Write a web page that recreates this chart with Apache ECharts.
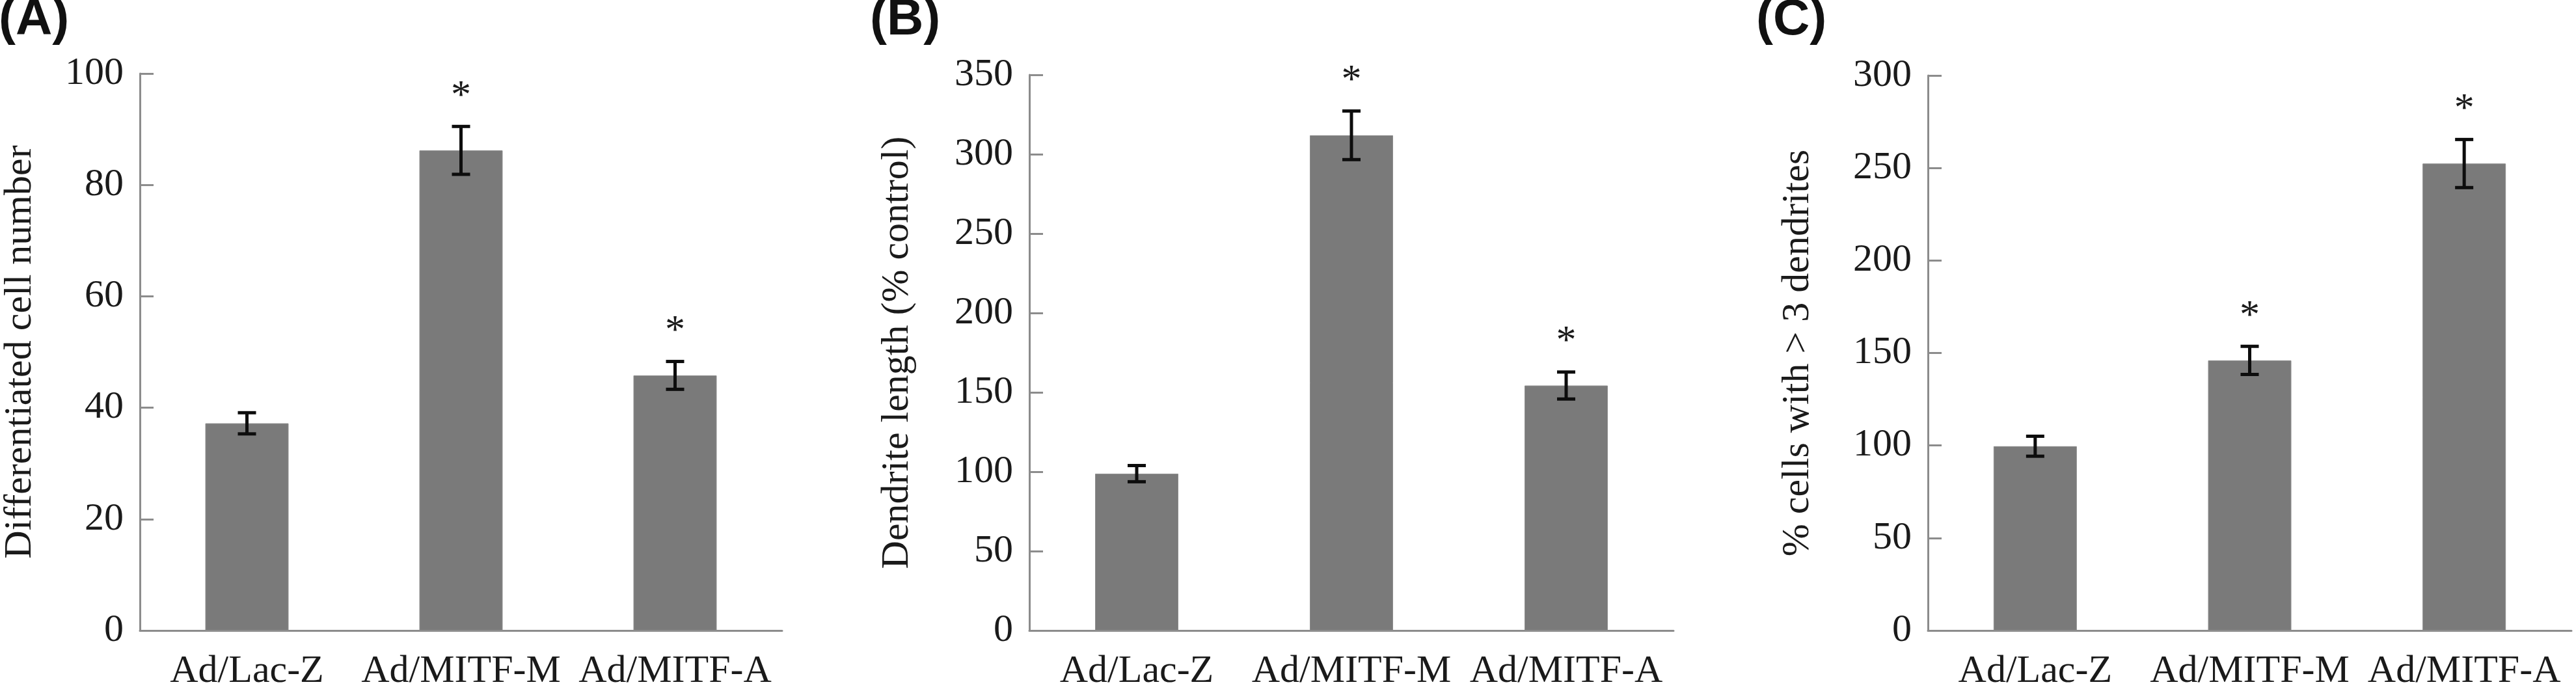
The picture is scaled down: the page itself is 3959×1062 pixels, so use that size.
<!DOCTYPE html>
<html>
<head>
<meta charset="utf-8">
<script src="https://cdn.jsdelivr.net/npm/echarts@6/dist/echarts.min.js"></script>
<style>
html,body{margin:0;padding:0;background:#fff;}
#chart{width:3959px;height:1062px;}
</style>
</head>
<body>
<div id="chart"></div>
<script>
// ---- Data ----
const categories = ['Ad/Lac-Z', 'Ad/MITF-M', 'Ad/MITF-A'];

const panelLabels = ['(A)', '(B)', '(C)'];
const yTitles = ['Differentiated cell number', 'Dendrite length (% control)', '% cells with > 3 dendrites'];

const meanA = [37.2, 86.2, 45.8];
const errA  = [1.9, 4.3, 2.5];
const meanB = [98.8, 311.9, 154.3];
const errB  = [5.1, 15.3, 8.5];
const meanC = [99.6, 146.0, 252.4];
const errC  = [5.4, 7.6, 13.0];

const sigA = [0, 1, 1];
const sigB = [0, 1, 1];
const sigC = [0, 1, 1];

const yMax = [100, 350, 300];
const yInterval = [20, 50, 50];

// ---- Style ----
const SERIF = '"Liberation Serif", "Times New Roman", serif';
const SANS = '"Liberation Sans", Arial, sans-serif';
const AXIS_COLOR = '#8c8c8c';
const BAR_COLOR = '#7a7a7a';
const TEXT_COLOR = '#1a1a1a';

const grids = [
  {left: 211, width: 991, top: 113, height: 863},
  {left: 1582, width: 990, top: 115, height: 861},
  {left: 2963, width: 989, top: 116, height: 861}
];
const nameGaps = [154, 173, 170];

const means = [meanA, meanB, meanC];
const errs = [errA, errB, errC];
const sigs = [sigA, sigB, sigC];

function renderErr(params, api) {
  const x = api.value(0), m = api.value(1), e = api.value(2), s = api.value(3);
  const top = api.coord([x, m + e]);
  const bot = api.coord([x, m - e]);
  const half = 14;
  const st = {stroke: '#0d0d0d', lineWidth: 5};
  const children = [
    {type: 'line', shape: {x1: top[0], y1: top[1], x2: bot[0], y2: bot[1]}, style: st},
    {type: 'line', shape: {x1: top[0] - half, y1: top[1], x2: top[0] + half, y2: top[1]}, style: st},
    {type: 'line', shape: {x1: bot[0] - half, y1: bot[1], x2: bot[0] + half, y2: bot[1]}, style: st}
  ];
  if (s) {
    children.push({
      type: 'text',
      x: top[0], y: top[1] - 46,
      style: {text: '*', font: '62px ' + SERIF, fill: TEXT_COLOR, align: 'center', verticalAlign: 'middle'}
    });
  }
  return {type: 'group', children: children};
}

const option = {
  backgroundColor: '#ffffff',
  animation: false,
  grid: grids,
  xAxis: grids.map((g, i) => ({
    type: 'category',
    gridIndex: i,
    data: categories,
    axisLine: {show: true, lineStyle: {color: AXIS_COLOR, width: 3}},
    axisTick: {show: false},
    axisLabel: {color: TEXT_COLOR, fontFamily: SERIF, fontSize: 60, margin: 33, interval: 0},
    splitLine: {show: false}
  })),
  yAxis: grids.map((g, i) => ({
    type: 'value',
    gridIndex: i,
    min: 0,
    max: yMax[i],
    interval: yInterval[i],
    name: yTitles[i],
    nameLocation: 'middle',
    nameGap: nameGaps[i],
    nameTextStyle: {color: TEXT_COLOR, fontFamily: SERIF, fontSize: 60},
    axisLine: {show: true, lineStyle: {color: AXIS_COLOR, width: 3}},
    axisTick: {show: true, inside: true, length: 21, lineStyle: {color: AXIS_COLOR, width: 3}},
    axisLabel: {color: TEXT_COLOR, fontFamily: SERIF, fontSize: 60, margin: 25},
    splitLine: {show: false}
  })),
  series: [].concat(
    means.map((m, i) => ({
      type: 'bar',
      xAxisIndex: i,
      yAxisIndex: i,
      data: m,
      barWidth: 128,
      itemStyle: {color: BAR_COLOR, borderColor: '#8e8e8e', borderWidth: 1},
      z: 2
    })),
    means.map((m, i) => ({
      type: 'custom',
      xAxisIndex: i,
      yAxisIndex: i,
      data: m.map((v, k) => [k, v, errs[i][k], sigs[i][k]]),
      renderItem: renderErr,
      z: 5
    }))
  ),
  graphic: [
    {type: 'text', left: -2, top: -8, style: {text: panelLabels[0], font: 'bold 78px ' + SANS, fill: '#111'}},
    {type: 'text', left: 1337, top: -8, style: {text: panelLabels[1], font: 'bold 78px ' + SANS, fill: '#111'}},
    {type: 'text', left: 2699, top: -8, style: {text: panelLabels[2], font: 'bold 78px ' + SANS, fill: '#111'}}
  ]
};

const chart = echarts.init(document.getElementById('chart'), null, {renderer: 'canvas'});
chart.setOption(option);
</script>
</body>
</html>
